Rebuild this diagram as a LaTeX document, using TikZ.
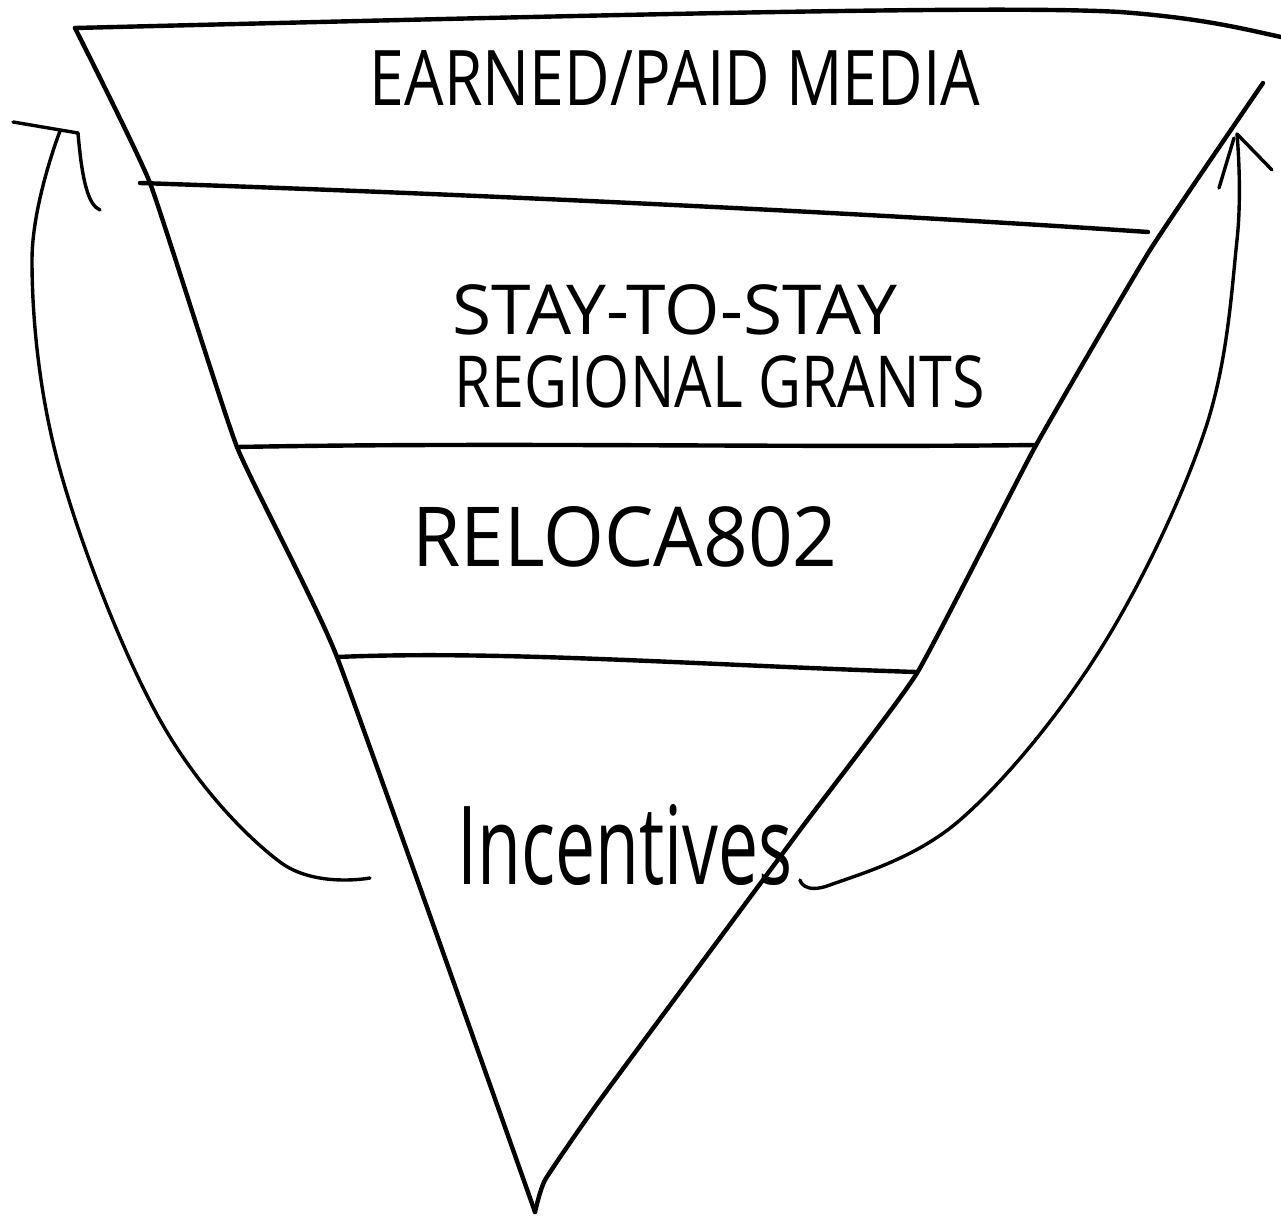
\documentclass[tikz,border=0pt]{standalone}
\usepackage{graphicx}
\usepackage{fontspec}
\setmainfont{Open Sans}
\begin{document}
\begin{tikzpicture}[x=1pt,y=-1pt,
  stroke/.style={line width=4.4pt,line cap=round,line join=round},
  thin stroke/.style={line width=3.4pt,line cap=round,line join=round},
  label/.style={inner sep=0pt,font=\Large}]
\useasboundingbox (0,0) rectangle (1281,1217);
% funnel
\coordinate (tl) at (75,28);
\coordinate (tr) at (1281,37);
\coordinate (apex) at (535,1212);
\coordinate (re) at (1263,83);
\draw[stroke] (tl) .. controls (600,15) and (1000,5) .. (1120,12) .. controls (1200,18) and (1240,28) .. (tr);
\draw[stroke] plot[smooth,tension=0.25] coordinates {(75,28) (150,183) (237,447) (337,657) (535,1212)};
\draw[stroke] plot[smooth,tension=0.25] coordinates {(535,1212) (545,1180) (600,1100) (800,830) (917,673) (1035,447) (1150,250) (1263,83)};
% bands
\coordinate (l1a) at (140,183); \coordinate (l1b) at (1148,232);
\coordinate (l2a) at (237,447); \coordinate (l2b) at (1035,445);
\coordinate (l3a) at (337,657); \coordinate (l3b) at (916,672);
\draw[stroke] (l1a) .. controls (500,195) and (900,215) .. (l1b);
\draw[stroke] (l2a) .. controls (500,442) and (800,448) .. (l2b);
\draw[stroke] (l3a) .. controls (500,650) and (700,665) .. (l3b);
% labels
\node[label] (media) at (675,78) {\resizebox{610pt}{55pt}{EARNED/PAID MEDIA}};
\node[label] (stay) at (675,310) {\resizebox{445pt}{50pt}{STAY-TO-STAY}};
\node[label] (grants) at (720,382) {\resizebox{530pt}{52pt}{REGIONAL GRANTS}};
\node[label] (reloc) at (625,537) {\resizebox{425pt}{60pt}{RELOCA802}};
\node[label] (inc) at (625,845) {\resizebox{335pt}{80pt}{Incentives}};
% left arrow
\coordinate (la0) at (370,878);
\coordinate (latip) at (60,131);
\draw[thin stroke] plot[smooth,tension=0.6] coordinates {(370,878) (280,862) (160,720) (60,470) (32,260) (60,131)};
\draw[thin stroke] (13,122) -- (78,133);
\draw[thin stroke] (78,133) .. controls (82,180) and (88,205) .. (100,210);
% right arrow
\draw[thin stroke] plot[smooth,tension=0.6] coordinates {(800,880) (830,885) (960,820) (1100,650) (1205,430) (1237,240) (1237,134)};
\draw[thin stroke] (1219,188) -- (1234,138);
\draw[thin stroke] (1237,134) -- (1272,170);
\end{tikzpicture}
\end{document}
